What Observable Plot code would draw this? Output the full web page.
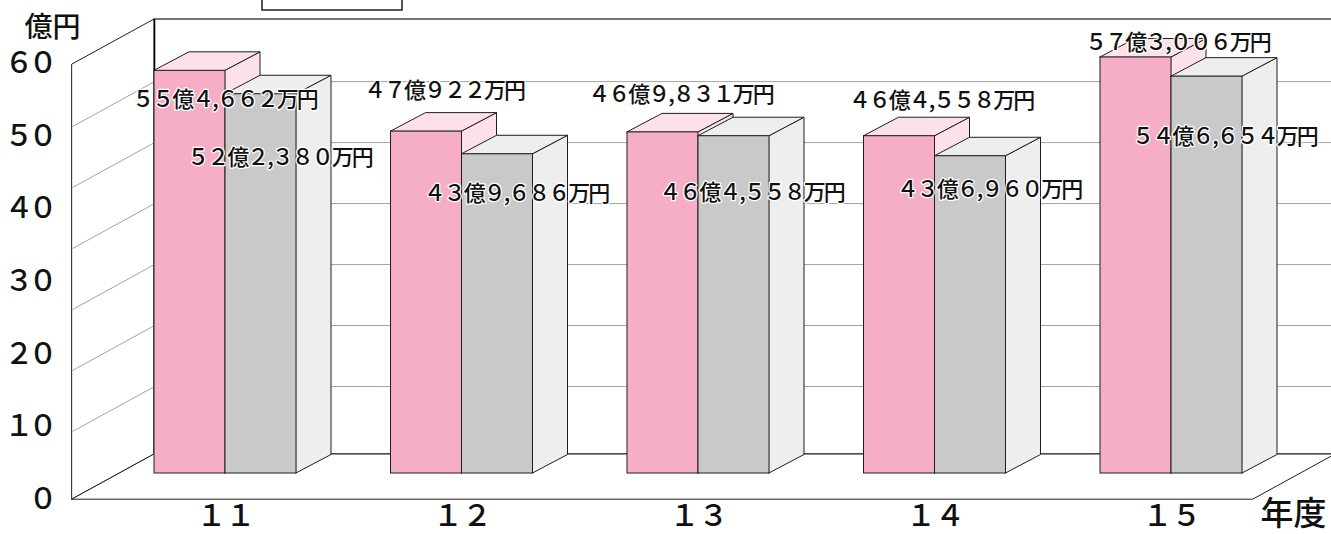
<!DOCTYPE html>
<html><head><meta charset="utf-8">
<script src="https://cdn.jsdelivr.net/npm/d3@7"></script>
<script src="https://cdn.jsdelivr.net/npm/@observablehq/plot@0.6"></script>
<style>
html,body{margin:0;padding:0;background:#fff;}
#chart svg{display:block;overflow:hidden}
</style></head><body><div id="chart"></div>
<script>
// ---- data ----
const years = ["１１", "１２", "１３", "１４", "１５"];
const pinkValues = [55.4662, 47.0922, 46.9831, 46.4558, 57.3006];   // 億円
const grayValues = [52.2380, 43.9686, 46.4558, 43.6960, 54.6654];   // 億円
const pinkLabels = ["５５億４,６６２万円", "４７億９２２万円", "４６億９,８３１万円", "４６億４,５５８万円", "５７億３,００６万円"];
const grayLabels = ["５２億２,３８０万円", "４３億９,６８６万円", "４６億４,５５８万円", "４３億６,９６０万円", "５４億６,６５４万円"];
const yTicks = [0, 10, 20, 30, 40, 50, 60];
const gridValues = [10, 20, 30, 40, 50, 60, 70];
const yUnit = "億円";
const xUnit = "年度";

// label nudges (px) relative to category centre / bar top
const pinkNudgeX = [-1, -18, -18, 6, 6];
const pinkNudgeY = [29, -41, -37, -35, -15];
const grayNudgeX = [54, 54, 53, 54, 53];
const grayNudgeY = [64, 40, 57, 34, 60];

// ---- geometry (data units) ----
const W = 1331, H = 534;
const PX = 236.5, PY = 7.26;             // px per category, px per value unit
const xDomain = [-225 / PX, (W - 225) / PX];
const yDomain = [-(H - 473) / PY, 473 / PY];
const barW = 71 / PX, dX = 35 / PX, dY = 18.5 / PY;
const floorFrontY = -26 / PY, floorBackY = 19 / PY;
const floorDX = 82 / PX, floorDY = 45 / PY;
const leftFrontX = (72 - 225) / PX, wallLeftX = leftFrontX + floorDX;
const floorRightFront = (1253 - 225) / PX;
const wallRightX = (W + 10 - 225) / PX;
const wallTopY = (473 - 19) / PY;
const wallY = v => (473 - 447) / PY + v * 0.84;
const fw = s => String(s).replace(/[0-9]/g, d => String.fromCharCode(d.charCodeAt(0) + 0xFEE0));

const PINK = "#f6aec7", PINK_L = "#fde1e9", GRAY = "#c9c9c9", GRAY_L = "#eeeeee", EDGE = "#1e1e1e";

function series(values, left) {
  return values.map((v, i) => ({i, v, x1: i + left, x2: i + left + barW}));
}
const pinkBars = series(pinkValues, -barW);
const grayBars = series(grayValues, 0);
const sides = bars => bars.flatMap(b => [
  {id: b.i, x: b.x2, y1: 0, y2: b.v},
  {id: b.i, x: b.x2 + dX, y1: dY, y2: b.v + dY}
]);
const tops = bars => bars.flatMap(b => [
  {id: b.i, y: b.v, x1: b.x1, x2: b.x2},
  {id: b.i, y: b.v + dY, x1: b.x1 + dX, x2: b.x2 + dX}
]);
const barMarks = (bars, front, light) => [
  Plot.areaY(sides(bars), {x: "x", y1: "y1", y2: "y2", z: "id", fill: light, stroke: EDGE, strokeWidth: 1}),
  Plot.areaX(tops(bars), {y: "y", x1: "x1", x2: "x2", z: "id", fill: light, stroke: EDGE, strokeWidth: 1}),
  Plot.rect(bars, {x1: "x1", x2: "x2", y1: 0, y2: "v", fill: front, stroke: EDGE, strokeWidth: 1})
];

const labelData = [
  ...pinkValues.map((v, i) => ({t: pinkLabels[i], x: i + pinkNudgeX[i] / PX, y: v - pinkNudgeY[i] / PY})),
  ...grayValues.map((v, i) => ({t: grayLabels[i], x: i + grayNudgeX[i] / PX, y: v - grayNudgeY[i] / PY}))
];

const chart = Plot.plot({
  width: W, height: H,
  margin: 0,
  x: {domain: xDomain, axis: null},
  y: {domain: yDomain, axis: null},
  style: {fontFamily: "'Noto Sans CJK JP', sans-serif", background: "white", color: "#000"},
  marks: [
    // back wall
    Plot.rect([0], {x1: wallLeftX, x2: wallRightX, y1: floorBackY, y2: wallTopY, fill: "white", stroke: EDGE, strokeWidth: 1.2}),
    Plot.ruleY(gridValues.slice(0, -1), {y: v => wallY(v), x1: wallLeftX, x2: wallRightX, stroke: "#a3a3a3", strokeWidth: 1}),
    // left wall
    Plot.areaY([{x: leftFrontX, y1: floorFrontY, y2: wallTopY - floorDY}, {x: wallLeftX, y1: floorBackY, y2: wallTopY}],
      {x: "x", y1: "y1", y2: "y2", fill: "white", stroke: EDGE, strokeWidth: 1}),
    Plot.link(gridValues.slice(0, -1), {x1: leftFrontX, y1: v => wallY(v) - floorDY, x2: wallLeftX, y2: v => wallY(v), stroke: "#a3a3a3", strokeWidth: 1}),
    // floor
    Plot.areaX([{y: floorFrontY, x1: leftFrontX, x2: floorRightFront}, {y: floorBackY, x1: wallLeftX, x2: floorRightFront + floorDX}],
      {y: "y", x1: "x1", x2: "x2", fill: "white", stroke: EDGE, strokeWidth: 1}),
    Plot.ruleX([0], {x: wallLeftX, y1: floorBackY, y2: wallTopY, stroke: "#000", strokeWidth: 1.6}),
    // bars
    ...barMarks(pinkBars, PINK, PINK_L),
    ...barMarks(grayBars, GRAY, GRAY_L),
    // value labels
    Plot.text(labelData, {x: "x", y: "y", text: "t", fontSize: 22, fontWeight: 500, fill: "#111", stroke: "white", strokeWidth: 2.5, lineAnchor: "middle"}),
    // y tick labels
    Plot.text(yTicks, {x: (52 - 225) / PX, y: v => v + floorFrontY, text: v => fw(v), textAnchor: "end", lineAnchor: "middle", fontSize: 29, fontWeight: 500, fill: "#111"}),
    Plot.text([yUnit], {x: (24 - 225) / PX, y: (473 - 28) / PY, text: d => d, textAnchor: "start", lineAnchor: "middle", fontSize: 28, fontWeight: 500, fill: "#111"}),
    // x tick labels
    Plot.text(years, {x: (d, i) => i, y: -(525 - 473) / PY, text: d => d, lineAnchor: "bottom", fontSize: 30, fontWeight: 500, fill: "#111"}),
    Plot.text([xUnit], {x: (1293 - 225) / PX, y: -(524 - 473) / PY, text: d => d, lineAnchor: "bottom", fontSize: 33, fontWeight: 500, fill: "#111"}),
    // legend box (cut off at top)
    Plot.rect([0], {x1: (262 - 225) / PX, x2: (402 - 225) / PX, y1: (473 - 10) / PY, y2: (473 + 40) / PY, fill: "white", stroke: EDGE, strokeWidth: 1.5})
  ]
});
// tighten the full-width digit spacing as in the reference
const tickSet = new Set(yTicks.map(fw));
const yearSet = new Set(years);
chart.querySelectorAll("text").forEach(t => {
  const s = t.textContent;
  if (s.includes("万円")) t.style.letterSpacing = "-2px";
  else if (tickSet.has(s)) t.style.letterSpacing = "-5px";
  else if (yearSet.has(s)) t.style.letterSpacing = "-1px";
});
document.getElementById("chart").appendChild(chart);
</script>
</body></html>
